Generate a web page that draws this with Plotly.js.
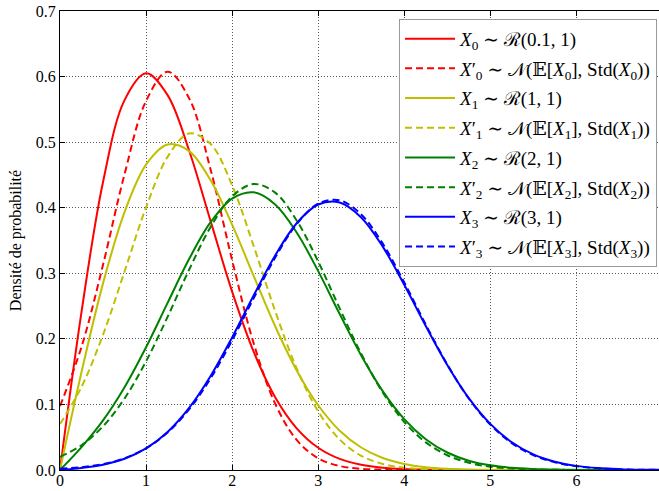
<!DOCTYPE html>
<html>
<head>
<meta charset="utf-8">
<script src="https://cdn.plot.ly/plotly-3.0.1.min.js"></script>
<style>html,body{margin:0;padding:0;background:#fff;}#chart{width:659px;height:491px;}</style>
</head>
<body>
<div id="chart"></div>
<script>
// x positions of samples
var xs = [0,0.25,0.5,0.75,1,1.25,1.5,1.75,2,2.25,2.5,2.75,3,3.25,3.5,3.75,4,4.25,4.5,4.75,5,5.25,5.5,5.75,6,6.25,6.5,6.75,7];

// Rice densities (solid) and their normal approximations (dashed)
var rice0 = [0,0.2411,0.4393,0.5641,0.6050,0.5717,0.4873,0.3795,0.2720,0.1804,0.1110,0.0636,0.0339,0.0169,0.0079,0.0034,0.0014,0.0005,0.0002,0.0001,0,0,0,0,0,0,0,0,0];
var norm0 = [0.0975,0.1878,0.3130,0.4512,0.5628,0.6074,0.5670,0.4580,0.3200,0.1934,0.1012,0.0458,0.0179,0.0061,0.0018,0.0005,0.0001,0,0,0,0,0,0,0,0,0,0,0,0];
var rice1 = [0,0.1493,0.2846,0.3934,0.4658,0.4965,0.4864,0.4419,0.3742,0.2961,0.2192,0.1519,0.0987,0.0600,0.0343,0.0183,0.0092,0.0043,0.0019,0.0008,0.0003,0.0001,0,0,0,0,0,0,0];
var norm1 = [0.0701,0.1267,0.2063,0.3027,0.4005,0.4775,0.5132,0.4972,0.4341,0.3417,0.2424,0.1550,0.0894,0.0464,0.0217,0.0092,0.0035,0.0012,0.0004,0.0001,0,0,0,0,0,0,0,0,0];
var rice2 = [0,0.0349,0.0756,0.1262,0.1871,0.2548,0.3217,0.3779,0.4140,0.4235,0.4049,0.3622,0.3033,0.2378,0.1747,0.1203,0.0776,0.0470,0.0267,0.0142,0.0071,0.0033,0.0015,0.0006,0.0002,0.0001,0,0,0];
var norm2 = [0.0199,0.0378,0.0667,0.1091,0.1657,0.2335,0.3054,0.3706,0.4173,0.4361,0.4230,0.3806,0.3179,0.2464,0.1772,0.1183,0.0732,0.0421,0.0225,0.0111,0.0051,0.0022,0.0009,0.0003,0.0001,0,0,0,0];
var rice3 = [0,0.0031,0.0081,0.0172,0.0329,0.0580,0.0946,0.1433,0.2022,0.2661,0.3272,0.3763,0.4049,0.4080,0.3851,0.3406,0.2825,0.2196,0.1602,0.1096,0.0703,0.0423,0.0239,0.0127,0.0063,0.0029,0.0013,0.0005,0.0002];
var norm3 = [0.0019,0.0043,0.0090,0.0179,0.0331,0.0571,0.0924,0.1398,0.1978,0.2617,0.3239,0.3750,0.4061,0.4113,0.3896,0.3452,0.2861,0.2218,0.1608,0.1090,0.0692,0.0410,0.0228,0.0118,0.0057,0.0026,0.0011,0.0004,0.0002];

var seriesNames = [
  "<i>X</i><sub>0</sub> ∼ ℛ(0.1, 1)",
  "<i>X</i>′<sub>0</sub> ∼ 𝒩(𝔼[<i>X</i><sub>0</sub>], Std(<i>X</i><sub>0</sub>))",
  "<i>X</i><sub>1</sub> ∼ ℛ(1, 1)",
  "<i>X</i>′<sub>1</sub> ∼ 𝒩(𝔼[<i>X</i><sub>1</sub>], Std(<i>X</i><sub>1</sub>))",
  "<i>X</i><sub>2</sub> ∼ ℛ(2, 1)",
  "<i>X</i>′<sub>2</sub> ∼ 𝒩(𝔼[<i>X</i><sub>2</sub>], Std(<i>X</i><sub>2</sub>))",
  "<i>X</i><sub>3</sub> ∼ ℛ(3, 1)",
  "<i>X</i>′<sub>3</sub> ∼ 𝒩(𝔼[<i>X</i><sub>3</sub>], Std(<i>X</i><sub>3</sub>))"
];
var xTicks = [0,1,2,3,4,5,6];
var yTitle = "Densité de probabilité";

var colors = ["#ff0000","#bfbf00","#008000","#0000ff"];
var ys = [rice0,norm0,rice1,norm1,rice2,norm2,rice3,norm3];

var traces = ys.map(function(y,i){
  return {
    x: xs, y: y, type: "scatter", mode: "lines",
    name: seriesNames[i], legendgroup: "g" + i,
    line: {color: colors[Math.floor(i/2)], width: 2, shape: "spline", smoothing: 1,
           dash: (i % 2 === 1) ? "7px,4px" : "solid"}
  };
});

var font = "Liberation Serif, DejaVu Serif, serif";
var layout = {
  width: 659, height: 491,
  margin: {l: 60, r: 0, t: 11, b: 21, pad: 0},
  paper_bgcolor: "#ffffff", plot_bgcolor: "#ffffff",
  font: {family: font, size: 16, color: "#000"},
  showlegend: true,
  legend: {
    x: 0.566, y: 0.983, xanchor: "left", yanchor: "top",
    bgcolor: "#ffffff", bordercolor: "#9a9a9a", borderwidth: 1,
    font: {family: font, size: 19, color: "#000"},
    tracegroupgap: 2, itemwidth: 50
  },
  xaxis: {
    range: [0, 6.96], tickvals: xTicks, ticktext: xTicks.map(String),
    ticks: "inside", ticklen: 5, tickcolor: "#000", tickwidth: 1,
    showline: true, linecolor: "#000", linewidth: 1, mirror: "ticks",
    showgrid: true, gridcolor: "rgba(0,0,0,0.65)", griddash: "1px,2px", gridwidth: 1,
    zeroline: false, automargin: false, ticklabelstandoff: -4,
    tickfont: {family: font, size: 16}
  },
  yaxis: {
    range: [0, 0.7], dtick: 0.1, tick0: 0, tickformat: ".1f",
    ticks: "inside", ticklen: 5, tickcolor: "#000", tickwidth: 1,
    showline: true, linecolor: "#000", linewidth: 1,
    showgrid: true, gridcolor: "rgba(0,0,0,0.65)", griddash: "1px,2px", gridwidth: 1,
    zeroline: false, automargin: false,
    tickfont: {family: font, size: 16},
    title: {text: yTitle, font: {family: font, size: 16}, standoff: 10}
  }
};

Plotly.newPlot("chart", traces, layout, {displayModeBar: false, staticPlot: true});
</script>
</body>
</html>
